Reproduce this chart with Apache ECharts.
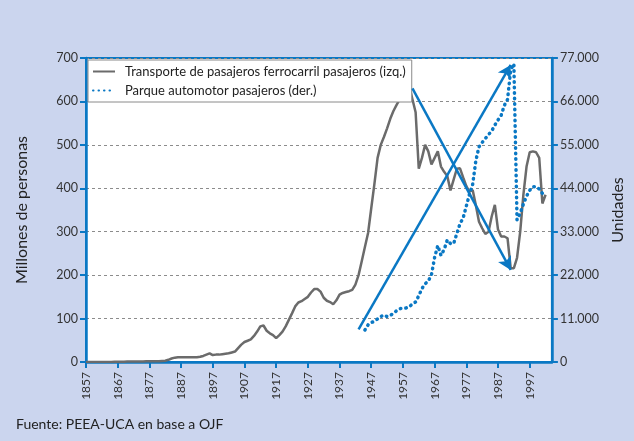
<!DOCTYPE html>
<html>
<head>
<meta charset="utf-8">
<script src="https://cdn.jsdelivr.net/npm/echarts@6/dist/echarts.min.js"></script>
<style>
html,body{margin:0;padding:0;background:#cbd5ee;}
#c{width:634px;height:441px;}
</style>
</head>
<body>
<div id="c"></div>
<script>
// Categories: years 1857..2004
const firstYear = 1857;
const lastYear = 2004;
const years = [];
for (let y = firstYear; y <= lastYear; y++) years.push(String(y));

// Transporte de pasajeros ferrocarril (millones), 1857..2002
const railValues = [
  0,0,0,0,0,0,0,0,0,0.5,0.5,0.5,0.5,
  1,1,1,1,1,1,1.5,1.5,2,2,
  2,2.5,3,5,8,10,11,11,11,11,
  11,11,11,12,14,17,20,16,17,17,
  18,19,20,22,24,32,40,46,49,52,
  60,70,82,84,72,66,62,55,62,70,
  82,97,112,128,137,140,145,150,160,168,
  168,162,148,141,138,133,142,155,159,161,
  163,166,178,200,232,265,297,354,410,470,
  500,518,538,560,578,592,605,620,640,635,
  605,575,445,470,500,485,455,470,485,450,
  438,428,395,420,445,446,425,405,392,396,
  361,323,308,295,300,335,362,305,289,289,
  285,216,216,240,300,385,450,483,485,483,
  470,365,385
];

// Parque automotor pasajeros (unidades), 1945..2002
const autoStartYear = 1945;
const autoValues = [
  8100,9400,10000,10300,10900,
  11500,11900,11500,11800,12300,13000,13500,13600,13700,14000,
  14700,15200,16800,18600,19800,20500,22100,26500,29500,27000,
  28500,30900,30000,30000,32500,35000,36500,39500,42500,45000,
  51000,54500,55600,56600,57600,58500,60000,61300,62500,65000,
  66500,74000,75500,36000,37700,40000,42000,43500,44400,44400,
  43800,42700
];

// Annotation arrows (year, millones)
const arrowUp = [['1943', 75], ['1991', 684]];
const arrowDown = [['1960', 630], ['1991', 212]];

const leftTicks = {min: 0, max: 700, interval: 100};
const rightTicks = {min: 0, max: 77000, interval: 11000};

const railSeries = years.map((y, i) => i < railValues.length ? railValues[i] : null);
const autoSeries = years.map(y => {
  const k = Number(y) - autoStartYear;
  return (k >= 0 && k < autoValues.length) ? autoValues[k] : null;
});

const BLUE = '#0a78c4';
const FONT = 'Lato';
const RAIL = 'Transporte de pasajeros ferrocarril pasajeros (izq.)';
const AUTO = 'Parque automotor pasajeros (der.)';
const chart = echarts.init(document.getElementById('c'));
chart.setOption({
  backgroundColor: '#cbd5ee',
  animation: false,
  textStyle: {fontFamily: FONT},
  grid: {left: 86, right: 77, top: 58, bottom: 79, show: true,
         backgroundColor: '#ffffff', borderColor: BLUE, borderWidth: 2},
  graphic: [{type: 'text', left: 16, top: 417,
    style: {text: 'Fuente: PEEA-UCA en base a OJF', font: '14px Lato', fill: '#222'}}],
  legend: {
    orient: 'vertical', left: 88, top: 60,
    backgroundColor: '#ffffff', borderColor: '#8a8a8a', borderWidth: 1, borderRadius: 0,
    padding: [5, 6, 5, 4], itemGap: 6, itemWidth: 22, itemHeight: 10,
    textStyle: {fontFamily: FONT, fontSize: 13, color: '#222', padding: [0,0,0,5]},
    data: [
      {name: RAIL, itemStyle: {opacity: 0}},
      {name: AUTO, itemStyle: {opacity: 0}}
    ]
  },
  xAxis: {
    type: 'category', data: years, boundaryGap: false,
    axisLine: {lineStyle: {color: BLUE, width: 2.5}},
    axisTick: {interval: (i) => i % 10 === 0, length: 6, lineStyle: {color: BLUE, width: 2}},
    axisLabel: {interval: (i) => i % 10 === 0, rotate: 90, margin: 10, color: '#333', fontSize: 12, fontFamily: FONT},
    splitLine: {show: false}
  },
  yAxis: [{
    type: 'value', min: leftTicks.min, max: leftTicks.max, interval: leftTicks.interval,
    name: 'Millones de personas', nameLocation: 'middle', nameRotate: 90, nameGap: 56,
    nameTextStyle: {fontSize: 16, color: '#222', fontFamily: FONT},
    axisLine: {show: true, lineStyle: {color: BLUE, width: 2.5}},
    axisTick: {show: true, length: 6, lineStyle: {color: BLUE, width: 2}},
    axisLabel: {color: '#333', fontSize: 12.5, margin: 8, fontFamily: FONT},
    splitLine: {show: true, lineStyle: {color: '#8c8c8c', type: [3, 3], width: 1}}
  }, {
    type: 'value', min: rightTicks.min, max: rightTicks.max, interval: rightTicks.interval,
    position: 'right',
    name: 'Unidades', nameLocation: 'middle', nameRotate: 90, nameGap: 58,
    nameTextStyle: {fontSize: 16, color: '#222', fontFamily: FONT},
    axisLine: {show: true, lineStyle: {color: BLUE, width: 2.5}},
    axisTick: {show: true, length: 6, lineStyle: {color: BLUE, width: 2}},
    axisLabel: {color: '#333', fontSize: 12.5, margin: 8, fontFamily: FONT,
      formatter: v => v === 0 ? '0' : String(v).replace(/\B(?=(\d{3})+(?!\d))/g, '.')},
    splitLine: {show: false}
  }],
  series: [{
    name: RAIL,
    type: 'line', yAxisIndex: 0, data: railSeries, symbol: 'none', smooth: false,
    lineStyle: {color: '#6b6b6b', width: 2.5}, itemStyle: {color: '#6b6b6b'},
    z: 3,
    markLine: {
      silent: true, symbol: ['none', 'arrow'], symbolSize: [11, 13],
      label: {show: false},
      lineStyle: {color: BLUE, width: 2.5, type: 'solid'},
      data: [
        [{coord: arrowUp[0]}, {coord: arrowUp[1]}],
        [{coord: arrowDown[0]}, {coord: arrowDown[1]}]
      ]
    }
  }, {
    name: AUTO,
    type: 'line', yAxisIndex: 1, data: autoSeries, symbol: 'none', smooth: false,
    lineStyle: {color: BLUE, width: 3.5, type: [0.5, 5], cap: 'round'},
    itemStyle: {color: BLUE},
    z: 4
  }]
});
</script>
</body>
</html>
